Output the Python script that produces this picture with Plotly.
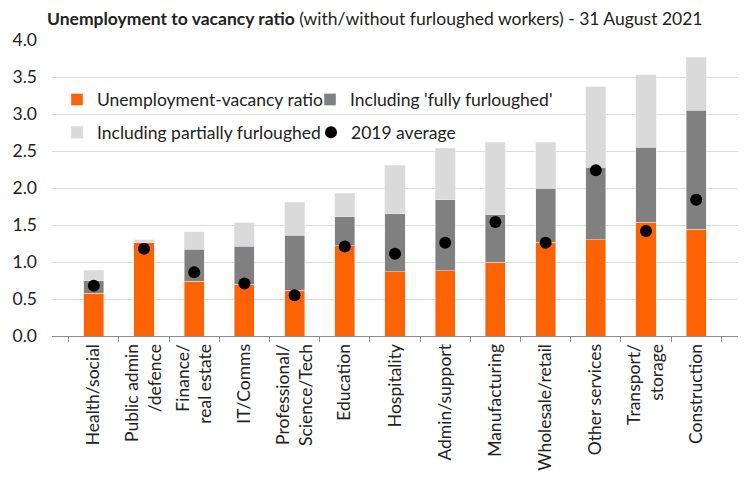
import plotly.graph_objects as go

categories = ["Health/social", "Public admin<br>/defence", "Finance/<br>real estate", "IT/Comms",
              "Professional/<br>Science/Tech", "Education", "Hospitality", "Admin/support",
              "Manufacturing", "Wholesale/retail", "Other services", "Transport/<br>storage",
              "Construction"]
uv_ratio = [0.58, 1.27, 0.74, 0.70, 0.62, 1.22, 0.87, 0.88, 1.00, 1.27, 1.30, 1.54, 1.44]
incl_fully = [0.75, 1.27, 1.17, 1.21, 1.36, 1.61, 1.65, 1.84, 1.64, 2.00, 2.28, 2.55, 3.05]
incl_partial = [0.89, 1.30, 1.41, 1.53, 1.81, 1.93, 2.31, 2.54, 2.62, 2.62, 3.37, 3.53, 3.77]
avg_2019 = [0.68, 1.18, 0.86, 0.71, 0.55, 1.21, 1.11, 1.26, 1.54, 1.26, 2.24, 1.42, 1.84]

fully_inc = [f - u for f, u in zip(incl_fully, uv_ratio)]
partial_inc = [p - f for p, f in zip(incl_partial, incl_fully)]

ORANGE = "#FF6200"
DARK = "#808080"
LIGHT = "#DADADA"
FONT = "Lato"
TXT = "#222222"
FS = 17.5

fig = go.Figure()
fig.add_bar(x=categories, y=uv_ratio, name="Unemployment-vacancy ratio",
            marker_color=ORANGE, legend="legend", showlegend=True)
fig.add_bar(x=categories, y=fully_inc, name="Including 'fully furloughed'",
            marker_color=DARK, legend="legend2", showlegend=True)
fig.add_bar(x=categories, y=partial_inc, name="Including partially furloughed",
            marker_color=LIGHT, legend="legend3", showlegend=True)
fig.add_scatter(x=categories, y=avg_2019, mode="markers", name="2019 average",
                marker=dict(color="black", size=12), legend="legend4", showlegend=True)

W, H = 746, 479
L, R, T, B = 52, 8, 40, 141
pw = W - L - R
ph = H - T - B

def px_x(x):
    return (x - L) / pw

def px_y(y):
    return (H - B - y) / ph

leg_common = dict(font=dict(family=FONT, size=FS, color=TXT), bgcolor="rgba(0,0,0,0)",
                  xanchor="left", yanchor="middle", orientation="h")

fig.update_layout(
    width=W, height=H,
    margin=dict(l=L, r=R, t=T, b=B),
    barmode="stack",
    bargap=0.6,
    showlegend=True,
    plot_bgcolor="white", paper_bgcolor="white",
    font=dict(family=FONT, size=FS, color=TXT),
    title=dict(text="<b>Unemployment to vacancy ratio</b> (with/without furloughed workers) - 31 August 2021",
               x=47 / W, xanchor="left", xref="container", y=1 - 19 / H, yanchor="middle",
               font=dict(family=FONT, size=FS, color=TXT)),
    legend=dict(x=px_x(57), y=px_y(100), **leg_common),
    legend2=dict(x=px_x(310), y=px_y(100), **leg_common),
    legend3=dict(x=px_x(57), y=px_y(133), **leg_common),
    legend4=dict(x=px_x(311), y=px_y(133), **leg_common),
    xaxis=dict(type="category", tickangle=-90, showline=True, linecolor="#8c8c8c", linewidth=1,
               ticks="outside", tickson="boundaries", ticklen=5, tickcolor="#8c8c8c",
               tickfont=dict(family=FONT, size=FS, color=TXT), showgrid=False),
    yaxis=dict(range=[0, 4.0], dtick=0.5, tickformat=".1f", showgrid=True, gridcolor="#DCDCDC",
               gridwidth=1, zeroline=False, ticks="", ticklabelstandoff=14,
               tickfont=dict(family=FONT, size=FS, color=TXT)),
)

fig.write_html("out.html")
